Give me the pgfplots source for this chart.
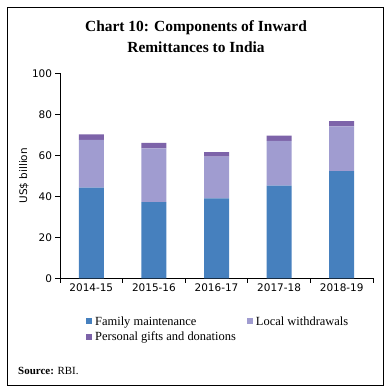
\documentclass[border=0pt]{standalone}
\usepackage{fontspec}
\setmainfont{Liberation Serif}
\newfontfamily\tickfont{DejaVu Sans}
\usepackage{pgfplots}
\pgfplotsset{compat=1.18}
\definecolor{famblue}{HTML}{4680BE}
\definecolor{localpur}{HTML}{A09CD0}
\definecolor{giftpur}{HTML}{7D63A9}
\begin{document}
\begin{tikzpicture}[x=1bp,y=1bp]
\useasboundingbox (0,0) rectangle (392,391);
\draw[line width=1bp] (7.5,5.5) rectangle (383.5,383.5);
\node[anchor=base, font=\fontsize{15.5}{18}\selectfont\bfseries, inner sep=0] at (196,360) {Chart 10: Components of Inward};
\node[anchor=base, font=\fontsize{15.5}{18}\selectfont\bfseries, inner sep=0] at (196,339) {Remittances to India};
\node[anchor=base west, font=\fontsize{11}{13}\selectfont, inner sep=0] at (18,17) {\textbf{Source:} RBI.};
\begin{axis}[
  at={(60bp,112.7bp)}, anchor=south west, scale only axis,
  width=313bp, height=205bp,
  ybar stacked, bar width=25bp,
  xmin=-0.5, xmax=4.5, ymin=0, ymax=100,
  xtick={-0.5,0.5,1.5,2.5,3.5,4.5}, xticklabels={,,,,,},
  extra x ticks={0,1,2,3,4},
  extra x tick labels={2014-15,2015-16,2016-17,2017-18,2018-19},
  extra x tick style={major tick length=0pt, tick label style={yshift=-2bp}},
  ytick={0,20,40,60,80,100},
  axis x line=bottom, axis y line=left,
  axis line style={-, line width=0.8bp, black},
  tick align=outside, major tick length=4.5bp,
  tick style={line width=0.8bp, black},
  tick label style={font=\tickfont\fontsize{10.5}{12}\selectfont},
  /pgf/number format/assume math mode=true,
  ylabel={US\$ billion},
  ylabel style={at={(axis description cs:-0.115,0.5)}, anchor=center, font=\tickfont\fontsize{10.5}{12}\selectfont},
  legend columns=2,
  legend cell align=left,
  legend style={draw=none, fill=none, at={(0.083,-0.175)}, anchor=north west, inner sep=0pt,
    font=\fontsize{12.5}{15}\selectfont,
    /tikz/every even column/.append style={column sep=9bp},
    /tikz/every odd column/.append style={column sep=1bp},
    row sep=1.5bp},
  legend image code/.code={\fill[#1] (0bp,-3bp) rectangle (6bp,3bp);},
]
\addplot[fill=famblue, draw=none] coordinates {(0,44.2) (1,37.2) (2,39.0) (3,45.2) (4,52.3)};
\addlegendentry{Family maintenance}
\addplot[fill=localpur, draw=none] coordinates {(0,23.3) (1,26.2) (2,20.3) (3,21.8) (4,21.8)};
\addlegendentry{Local withdrawals}
\addplot[fill=giftpur, draw=none] coordinates {(0,2.7) (1,2.6) (2,2.3) (3,2.6) (4,2.6)};
\addlegendentry{Personal gifts and donations}
\end{axis}
\end{tikzpicture}
\end{document}
